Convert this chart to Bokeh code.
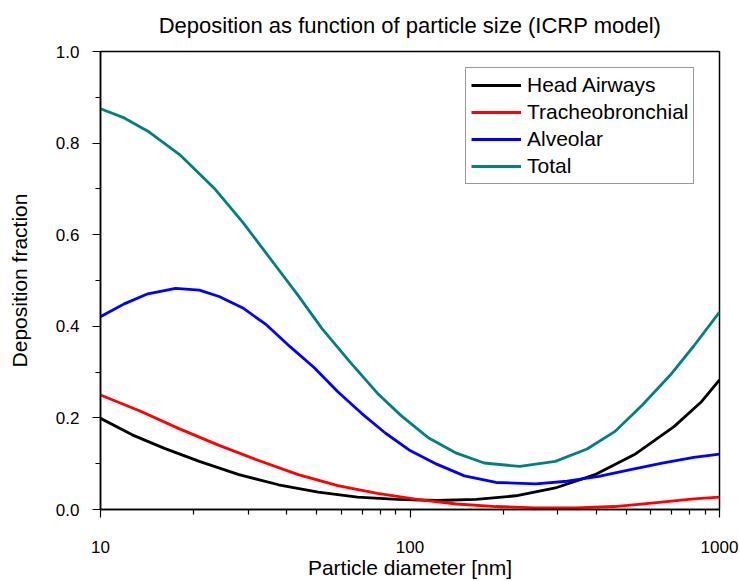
from bokeh.plotting import figure
from bokeh.models import Range1d, FixedTicker, Legend, LegendItem
from bokeh.embed import file_html
from bokeh.resources import INLINE

# ---- data (diameter in nm, deposition fraction) ----
head_d = [10, 12.66, 16.02, 20.86, 28.01, 37.6, 50.5, 67.7, 90.9, 122, 163.8, 219.8, 294.9, 395.8, 531.2, 712.9, 876, 1000]
head_f = [0.199, 0.163, 0.134, 0.105, 0.076, 0.054, 0.038, 0.027, 0.022, 0.0196, 0.022, 0.030, 0.047, 0.076, 0.120, 0.181, 0.236, 0.283]

tb_d = [10, 13.42, 18.01, 24.17, 32.44, 43.55, 58.45, 78.45, 105.3, 141.3, 189.7, 254.5, 341.6, 458.5, 615.4, 826, 1000]
tb_f = [0.250, 0.215, 0.176, 0.140, 0.107, 0.076, 0.052, 0.035, 0.022, 0.012, 0.0065, 0.0036, 0.0036, 0.0065, 0.0145, 0.023, 0.027]

alv_d = [10, 11.93, 14.23, 17.49, 20.86, 24.17, 28.84, 34.41, 41.06, 48.98, 58.45, 69.74, 83.2, 99.3, 122, 149.9, 189.7, 254.5, 322.1, 407.6, 515.8, 652.8, 826, 1000]
alv_f = [0.421, 0.449, 0.471, 0.483, 0.479, 0.465, 0.440, 0.403, 0.355, 0.310, 0.257, 0.210, 0.167, 0.130, 0.099, 0.0735, 0.059, 0.056, 0.0617, 0.0725, 0.087, 0.1015, 0.114, 0.121]

tot_d = [10, 11.93, 14.23, 18.01, 23.48, 28.84, 35.44, 43.55, 51.96, 63.85, 78.45, 93.6, 115, 141.3, 173.6, 226.2, 294.9, 373.2, 458.5, 563.4, 692.3, 826, 1000]
tot_f = [0.875, 0.855, 0.826, 0.775, 0.699, 0.627, 0.547, 0.467, 0.395, 0.323, 0.254, 0.205, 0.156, 0.123, 0.1015, 0.094, 0.105, 0.132, 0.170, 0.228, 0.293, 0.357, 0.431]

series_names = ["Head Airways", "Tracheobronchial", "Alveolar", "Total"]
series_colors = ["#000000", "#FF0000", "#0000FF", "#008080"]

x_major = [10, 100, 1000]
x_minor = [20, 30, 40, 50, 60, 70, 80, 90, 200, 300, 400, 500, 600, 700, 800, 900]
y_major = [0.0, 0.2, 0.4, 0.6, 0.8, 1.0]
y_minor = [0.1, 0.3, 0.5, 0.7, 0.9]

title_text = "Deposition as function of particle size (ICRP model)"

FONT = "Liberation Sans"

p = figure(width=740, height=581, x_axis_type="log",
           x_range=Range1d(10, 1000), y_range=Range1d(0, 1.0),
           output_backend="svg", toolbar_location=None,
           min_border_left=100, min_border_right=21,
           min_border_top=51, min_border_bottom=69,
           title=title_text)

p.title.text_font = FONT
p.title.text_font_size = "22px"
p.title.text_font_style = "normal"
p.title.text_color = "black"
p.title.align = "center"
p.title.vertical_align = "top"
p.title.standoff = 24

p.xgrid.visible = False
p.ygrid.visible = False
p.outline_line_color = "black"
p.outline_line_width = 1.5
p.background_fill_color = "white"
p.border_fill_color = "white"

p.xaxis.ticker = FixedTicker(ticks=x_major, minor_ticks=x_minor)
p.yaxis.ticker = FixedTicker(ticks=y_major, minor_ticks=y_minor)
p.xaxis.major_label_overrides = {10: "10", 100: "100", 1000: "1000"}
p.yaxis.major_label_overrides = {0: "0.0", 0.2: "0.2", 0.4: "0.4", 0.6: "0.6", 0.8: "0.8", 1: "1.0"}

for ax in (p.xaxis[0], p.yaxis[0]):
    ax.axis_line_color = "black"
    ax.axis_line_width = 1.5
    ax.major_tick_line_color = "black"
    ax.minor_tick_line_color = "black"
    ax.major_tick_line_width = 1.2
    ax.minor_tick_line_width = 1.2
    ax.major_tick_in = 0
    ax.major_tick_out = 8
    ax.minor_tick_in = 0
    ax.minor_tick_out = 5
    ax.major_label_text_font = FONT
    ax.major_label_text_font_size = "17px"
    ax.major_label_text_color = "black"
    ax.axis_label_text_font = FONT
    ax.axis_label_text_font_size = "21px"
    ax.axis_label_text_font_style = "normal"
    ax.axis_label_text_color = "black"

p.xaxis.axis_label = "Particle diameter [nm]"
p.yaxis.axis_label = "Deposition fraction"
p.xaxis.major_label_standoff = 23
p.xaxis.axis_label_standoff = 0
p.yaxis.major_label_standoff = 13
p.yaxis.axis_label_standoff = 22

xs = [head_d, tb_d, alv_d, tot_d]
ys = [head_f, tb_f, alv_f, tot_f]
items = []
for xd, yd, name, col in zip(xs, ys, series_names, series_colors):
    r = p.line(xd, yd, line_color=col, line_width=2.8, line_join="round")
    items.append(LegendItem(label=name, renderers=[r]))

legend = Legend(items=items, location=(365, 325))
legend.label_text_font = FONT
legend.label_text_font_size = "21px"
legend.label_text_color = "black"
legend.label_height = 20
legend.glyph_height = 20
legend.glyph_width = 50
legend.label_standoff = 6
legend.spacing = 3
legend.padding = 5
legend.margin = 0
legend.border_line_color = "#333333"
legend.border_line_width = 1
legend.background_fill_alpha = 1.0
p.add_layout(legend, "center")

open("out.html", "w").write(file_html(p, INLINE))
